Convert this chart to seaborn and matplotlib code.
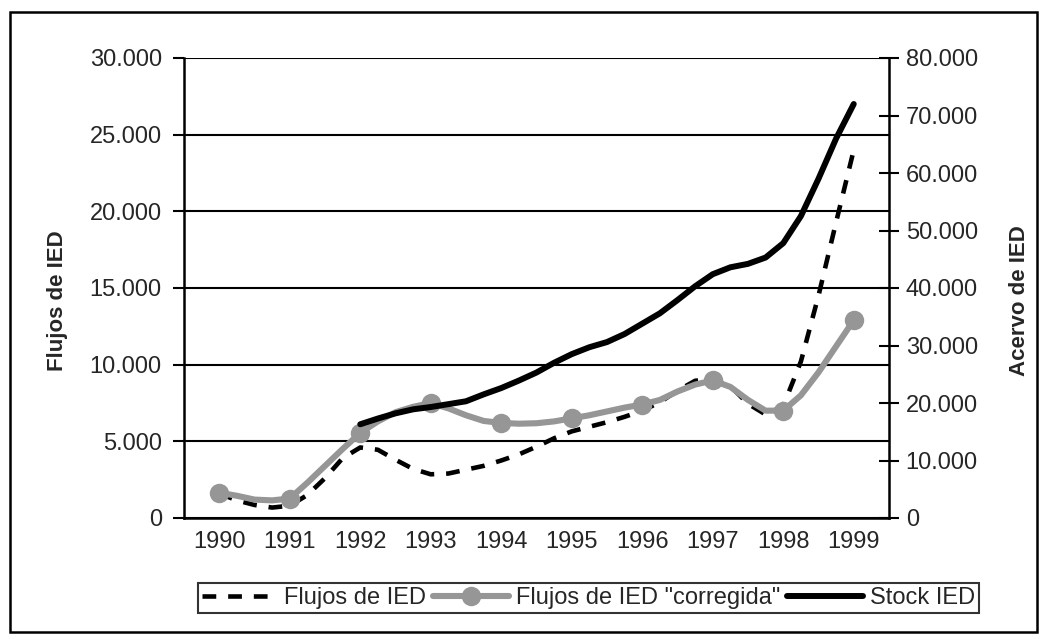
import numpy as np
import pandas as pd
import matplotlib
matplotlib.use("Agg")
import matplotlib.pyplot as plt
from matplotlib.ticker import FuncFormatter, FixedLocator
from matplotlib.patches import Rectangle
import seaborn as sns

# Quarterly positions (year centres are whole numbers)
quarters = [1990 + 0.25 * i for i in range(37)]
years = list(range(1990, 2000))
year_labels = [str(y) for y in years]

# Flujos de IED (miles)
flujos = [1.6, 1.15, 0.85, 0.68, 0.8, 1.5, 2.6, 3.9, 4.6, 4.45, 3.8, 3.2,
          2.85, 2.9, 3.15, 3.4, 3.75, 4.15, 4.65, 5.2, 5.65, 5.95, 6.25, 6.6,
          7.0, 7.55, 8.3, 8.95, 9.05, 8.6, 7.45, 6.75, 7.3, 10.2, 14.5, 19.3, 24.0]

# Flujos de IED "corregida"
corregida = [1.65, 1.45, 1.2, 1.15, 1.27, 2.3, 3.4, 4.5, 5.55, 6.3, 6.9, 7.25,
             7.5, 7.15, 6.7, 6.33, 6.2, 6.15, 6.18, 6.3, 6.5, 6.7, 6.95, 7.2,
             7.4, 7.7, 8.25, 8.7, 8.97, 8.55, 7.7, 7.0, 7.0, 8.0, 9.5, 11.2, 12.9]

# Stock IED (right axis), starts in 1992
stock_quarters = quarters[8:]
stock = [16.3, 17.3, 18.2, 18.9, 19.3, 19.8, 20.3, 21.5, 22.6, 23.9, 25.3,
         27.0, 28.5, 29.7, 30.6, 32.0, 33.8, 35.6, 37.9, 40.3, 42.4, 43.6,
         44.2, 45.3, 47.8, 52.5, 59.0, 66.0, 72.0]

df = pd.DataFrame({"t": quarters,
                   "flujos": np.array(flujos) * 1000,
                   "corregida": np.array(corregida) * 1000})
df_stock = pd.DataFrame({"t": stock_quarters, "stock": np.array(stock) * 1000})

sns.set_style("white")
plt.rcParams["font.family"] = ["Liberation Sans", "DejaVu Sans"]
fs = 17

fig = plt.figure(figsize=(10.47, 6.42), dpi=100)
ax = fig.add_axes([184 / 1047, 1 - 518 / 642, 705 / 1047, 460 / 642])
ax2 = ax.twinx()

gray = "#969696"
sns.lineplot(data=df, x="t", y="flujos", ax=ax, color="black", linewidth=3.3,
             linestyle=(0, (3, 2.6)), errorbar=None, label="Flujos de IED",
             zorder=3)
sns.lineplot(data=df, x="t", y="corregida", ax=ax, color=gray, linewidth=4.4,
             marker="o", markersize=14, markeredgewidth=0, markevery=4,
             errorbar=None, label='Flujos de IED "corregida"', zorder=4)
sns.lineplot(data=df_stock, x="t", y="stock", ax=ax2, color="black",
             linewidth=4.3, errorbar=None, label="Stock IED", zorder=5)

fmt = FuncFormatter(lambda v, p: f"{int(round(v)):,}".replace(",", "."))

ax.set_xlim(1989.5, 1999.5)
ax.set_ylim(0, 30000)
ax2.set_ylim(0, 80000)
ax.set_yticks(np.arange(0, 30001, 5000))
ax2.set_yticks(np.arange(0, 80001, 10000))
ax.yaxis.set_major_formatter(fmt)
ax2.yaxis.set_major_formatter(fmt)

# category boundaries carry the ticks, labels sit at year centres
ax.xaxis.set_major_locator(FixedLocator([y - 0.5 for y in years] + [1999.5]))
ax.xaxis.set_major_formatter(FuncFormatter(lambda v, p: ""))
ax.xaxis.set_minor_locator(FixedLocator(years))
ax.set_xticklabels(year_labels, minor=True)
ax.tick_params(axis="x", which="major", direction="out", length=9, width=1.5,
               color="black")
ax.tick_params(axis="x", which="minor", length=0, pad=9, labelsize=fs)
ax.tick_params(axis="y", direction="out", length=8, width=1.5, color="black",
               labelsize=fs, pad=8, left=True)
ax2.tick_params(axis="y", direction="inout", length=14, width=1.5,
                color="black", labelsize=fs, pad=5, right=True)

ax.grid(axis="y", color="black", linewidth=1.5)
ax.grid(axis="x", visible=False)
ax2.grid(False)
for a in (ax, ax2):
    for side in a.spines.values():
        side.set_visible(False)
ax.spines["left"].set_visible(True)
ax.spines["bottom"].set_visible(True)
ax2.spines["right"].set_visible(True)
for s in (ax.spines["left"], ax.spines["bottom"], ax2.spines["right"]):
    s.set_linewidth(1.8)
    s.set_color("black")

ax.set_xlabel("")
ax.set_ylabel("Flujos de IED", fontsize=16, fontweight="bold")
ax2.set_ylabel("Acervo de IED", fontsize=16, fontweight="bold")
ax.yaxis.set_label_coords(-0.165, 0.472)
ax2.yaxis.set_label_coords(1.170, 0.472)

h1, l1 = ax.get_legend_handles_labels()
h2, l2 = ax2.get_legend_handles_labels()
ax.get_legend().remove()
ax2.get_legend().remove()
leg = fig.legend(h1 + h2, l1 + l2, loc="center left", ncol=3,
                 bbox_to_anchor=(198 / 1047, 1 - 598 / 642), fontsize=fs,
                 frameon=True, fancybox=False, edgecolor="black",
                 handlelength=3.2, handletextpad=0.3, columnspacing=0.3,
                 borderpad=0.15, borderaxespad=0)
leg.get_frame().set_linewidth(1.5)

# outer chart border
fig.patches.append(Rectangle((10 / 1047, 10 / 642), 1027 / 1047, 620 / 642,
                             transform=fig.transFigure, fill=False,
                             edgecolor="black", linewidth=1.8))

fig.savefig("out.png", dpi=100)
